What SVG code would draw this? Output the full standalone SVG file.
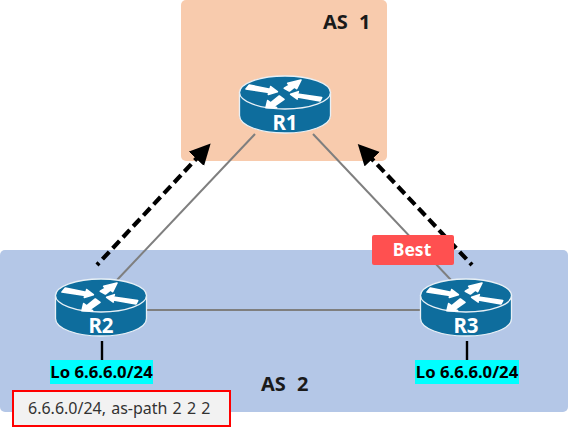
<svg xmlns="http://www.w3.org/2000/svg" xmlns:xlink="http://www.w3.org/1999/xlink" width="568" height="428" viewBox="0 0 568 428">
<style>
text{font-family:"Noto Sans","Liberation Sans",sans-serif}
.as{font-size:20px;font-weight:700;fill:#1a1a1a;word-spacing:6px}
.link{stroke:#7F7F7F;stroke-width:2;fill:none}
.lo{stroke:#000;stroke-width:2.4;fill:none}
.adv{stroke:#000;stroke-width:4.2;fill:none;stroke-dasharray:10 5;stroke-dashoffset:7;marker-end:url(#head)}
.rbody{fill:#0E6D9D;stroke:#E8F0F6;stroke-width:1.3}
.rname{font-size:20.5px;font-weight:700;fill:#fff;text-anchor:middle}
.cyan{fill:#00FFFF}
.lotext{font-size:16.7px;font-weight:700;fill:#000;text-anchor:middle}
</style>
<defs>
<marker id="head" markerUnits="userSpaceOnUse" markerWidth="22" markerHeight="22" refX="1" refY="10.5" orient="auto" viewBox="0 0 22 21"><path d="M0,0 L21,10.5 L0,21 Z" fill="#000"/></marker>
<g id="router">
<path class="rbody" d="M-45.5,0 V23 C-45.5,33 -25,40.5 0,40.5 C25,40.5 45.5,33 45.5,23 V0 Z"/>
<ellipse class="rbody" cx="0" cy="0" rx="45.5" ry="16.5"/>
<g transform="scale(0.3333) translate(-195,-97.5)" fill="#fff" stroke="#fff" stroke-width="5" stroke-linejoin="round">
<polygon points="88,75 150,88 152,80 172,95 145,103 147,97 78,87"/>
<polygon points="193,85 208,76 203,70 243,60 230,86 223,81 208,93"/>
<polygon points="212,103 235,95 232,102 305,113 300,123 228,110 232,117"/>
<polygon points="138,143 143,122 152,129 178,108 192,118 163,138 170,144"/>
</g>
</g>
</defs>
<g id="as1-area"><rect x="181" y="0" width="206" height="161" rx="5" fill="#F8CBAD"/><text class="as" x="323" y="29">AS 1</text></g>
<g id="as2-area"><rect x="0" y="250" width="568" height="162" rx="5" fill="#B4C7E7"/><text class="as" x="261" y="391">AS 2</text></g>
<g id="connectors">
<path class="link" d="M255,134 L117,280"/>
<path class="link" d="M313,134 L451,280"/>
<path class="link" d="M147,310 H420"/>
<path class="lo" d="M102,341 V360"/>
<path class="lo" d="M467,341 V360"/>
<path class="adv" d="M97,265 L197,158"/>
<path class="adv" d="M472,265 L371.5,158.5"/>
</g>
<g id="R1"><use href="#router" x="285" y="92.5"/><text class="rname" x="285" y="130">R1</text></g>
<g id="R2"><use href="#router" x="101" y="295.5"/><text class="rname" x="101" y="333">R2</text></g>
<g id="R3"><use href="#router" x="466" y="295.5"/><text class="rname" x="466" y="333">R3</text></g>
<g id="lo-R2"><rect class="cyan" x="50" y="360" width="103" height="24"/><text class="lotext" x="101.5" y="378">Lo 6.6.6.0/24</text></g>
<g id="lo-R3"><rect class="cyan" x="415" y="360" width="104" height="24"/><text class="lotext" x="467" y="378">Lo 6.6.6.0/24</text></g>
<g id="best"><rect x="372" y="235" width="82" height="30" rx="2" fill="#FF5050"/><text x="412" y="256" font-size="17.5" font-weight="700" fill="#fff" text-anchor="middle">Best</text></g>
<g id="route-note"><rect x="13" y="391" width="217" height="35" fill="#F2F2F2" stroke="#FF0000" stroke-width="2"/><text x="28" y="414" font-size="16" fill="#333" word-spacing="1">6.6.6.0/24, as-path 2 2 2</text></g>
</svg>
